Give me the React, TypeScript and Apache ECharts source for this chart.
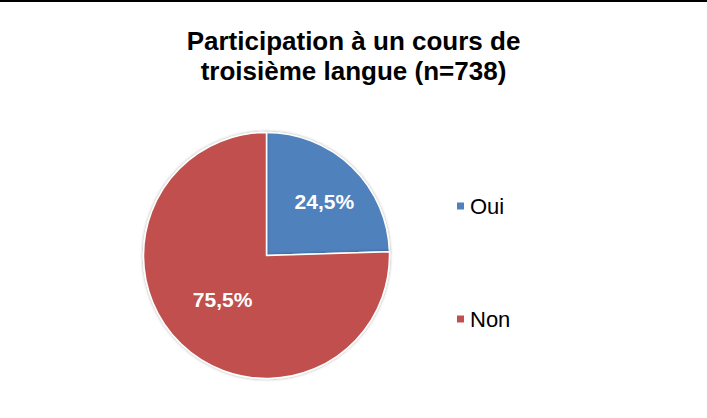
import React, { useEffect, useRef } from "react";
import * as echarts from "echarts";

const titleLines = ["Participation à un cours de", "troisième langue (n=738)"];
const categories = ["Oui", "Non"];
const values = [24.5, 75.5];
const colors = ["#4F81BD", "#C0504D"];
const labelOffsets = [[13, -8], [1, -2]];

const FONT = "'Liberation Sans', Arial, Helvetica, sans-serif";

export default function App() {
  const ref = useRef<HTMLDivElement>(null);
  useEffect(() => {
    if (!ref.current) return;
    const chart = echarts.init(ref.current, undefined, { renderer: "svg" });
    chart.setOption({
      animation: false,
      backgroundColor: "#ffffff",
      title: {
        text: titleLines.join("\n"),
        left: "center",
        top: 24,
        padding: 0,
        textStyle: {
          fontFamily: FONT,
          fontSize: 26,
          fontWeight: "bold",
          color: "#000000",
          lineHeight: 30,
        },
      },
      legend: {
        orient: "vertical",
        left: 455,
        top: 193,
        padding: 0,
        itemGap: 91,
        itemWidth: 9,
        itemHeight: 9,
        icon: "rect",
        data: categories,
        textStyle: {
          fontFamily: FONT,
          fontSize: 22,
          color: "#000000",
        },
      },
      series: [
        {
          type: "pie",
          center: [266.5, 253.5],
          radius: [0, 123],
          startAngle: 90,
          clockwise: true,
          label: {
            show: true,
            position: "inside",
            formatter: (p: any) => p.value.toFixed(1).replace(".", ",") + "%",
            fontFamily: FONT,
            fontSize: 21,
            fontWeight: "bold",
            color: "#ffffff",
          },
          labelLine: { show: false },
          emphasis: { disabled: true },
          itemStyle: {
            borderColor: "#ffffff",
            borderWidth: 1.5,
            shadowBlur: 3,
            shadowColor: "rgba(0,0,0,0.35)",
          },
          data: categories.map((c, i) => ({
            name: c,
            value: values[i],
            itemStyle: { color: colors[i] },
            label: { offset: labelOffsets[i] },
          })),
        },
      ],
    });
    return () => chart.dispose();
  }, []);
  return (
    <div
      style={{
        position: "fixed",
        left: 0,
        top: 0,
        width: 707,
        height: 418,
        background: "#fff",
      }}
    >
      <div style={{ position: "absolute", left: 0, top: 0, width: 707, height: 2, background: "#000" }} />
      <div ref={ref} style={{ position: "absolute", left: 0, top: 2, width: 707, height: 416 }} />
    </div>
  );
}
